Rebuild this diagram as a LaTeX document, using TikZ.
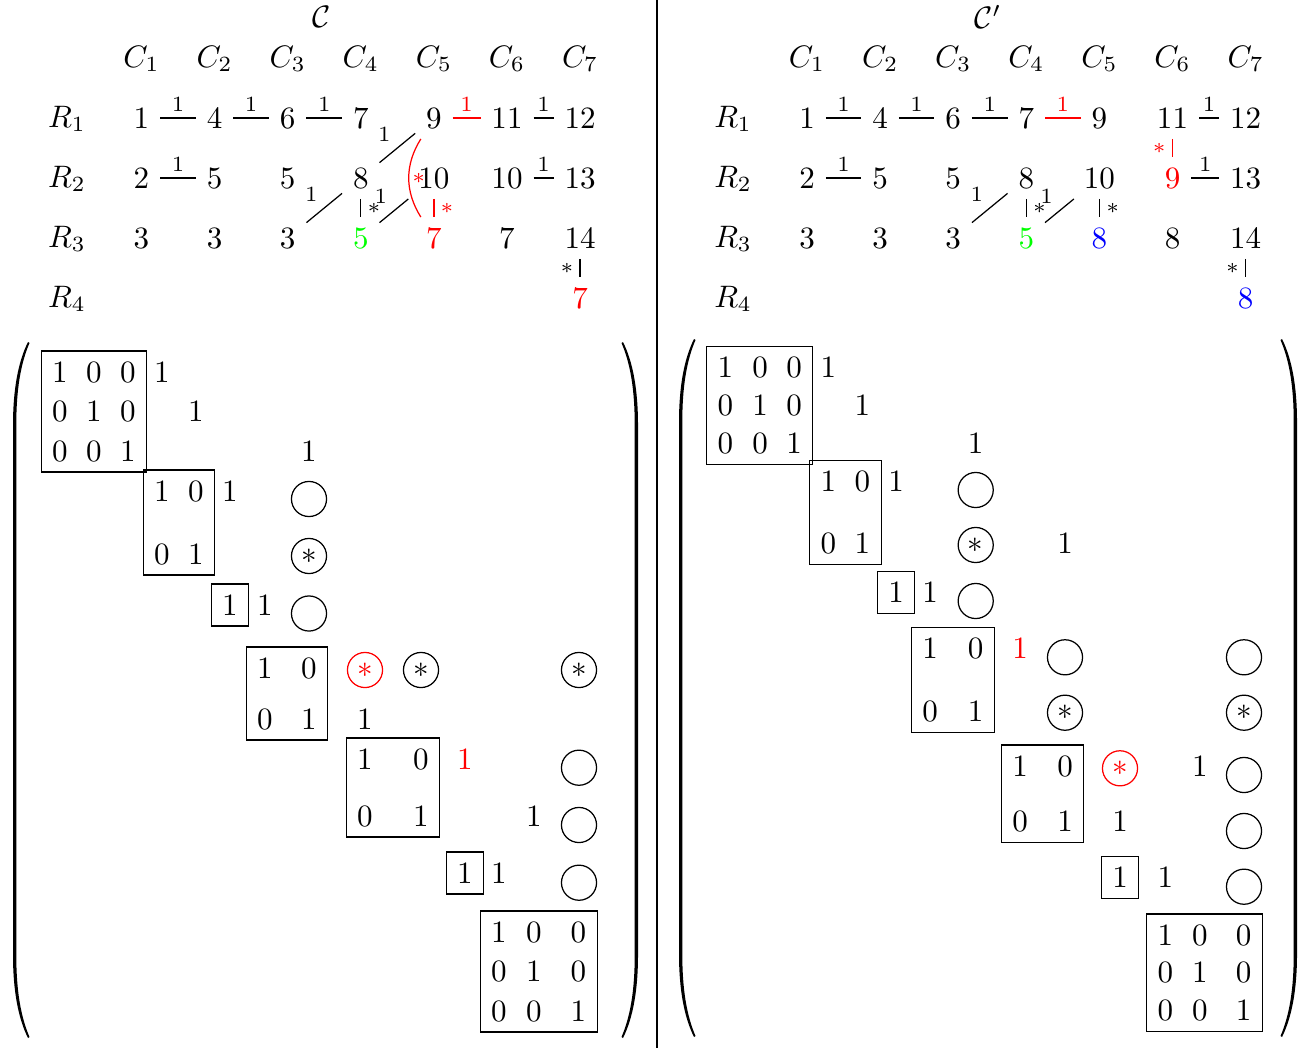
\documentclass[tikz,border=0pt]{standalone}
\usetikzlibrary{fit}
\newcommand\ent[4]{\node (#1) at (#2,#3) {$#4$};}
\newcommand\myLparen[3]{%
 \fill ({#1},{#2}) .. controls ({#1-10},{#2+20}) and ({#1-15},{#2+48}) .. ({#1-15},{#2+83}) -- ({#1-15},{#3-83}) .. controls ({#1-15},{#3-48}) and ({#1-10},{#3-20}) .. ({#1},{#3}) -- ({#1+1.5},{#3-1}) .. controls ({#1-7.5},{#3-22}) and ({#1-11.7},{#3-48}) .. ({#1-11.7},{#3-83}) -- ({#1-11.7},{#2+83}) .. controls ({#1-11.7},{#2+48}) and ({#1-7.5},{#2+22}) .. ({#1+1.5},{#2+1}) -- cycle;}
\newcommand\myRparen[3]{%
 \fill ({#1},{#2}) .. controls ({#1+10},{#2+20}) and ({#1+15},{#2+48}) .. ({#1+15},{#2+83}) -- ({#1+15},{#3-83}) .. controls ({#1+15},{#3-48}) and ({#1+10},{#3-20}) .. ({#1},{#3}) -- ({#1-1.5},{#3-1}) .. controls ({#1+7.5},{#3-22}) and ({#1+11.7},{#3-48}) .. ({#1+11.7},{#3-83}) -- ({#1+11.7},{#2+83}) .. controls ({#1+11.7},{#2+48}) and ({#1+7.5},{#2+22}) .. ({#1-1.5},{#2+1}) -- cycle;}
\begin{document}
\begin{tikzpicture}[x=0.322pt,y=-0.322pt,
  circ/.style={draw,circle,minimum size=11.3pt,inner sep=0pt},
  boxfit/.style={draw,inner sep=0pt},
  lab/.style={font=\scriptsize,inner sep=2pt},
  divider/.style={line width=0.65pt}]
\useasboundingbox (0,0) rectangle (1298,1048);
\draw[divider] (656.7,0) -- (656.7,1048);

% ================= LEFT TOP =================
\node (lT) at (322,17) {$\mathcal{C}$};
\foreach \i/\x in {1/141.5,2/214.6,3/287.7,4/360.8,5/433.9,6/507,7/580.1}
  \node (lC\i) at (\x,59) {$C_{\i}$};
\foreach \i/\y in {1/119,2/179,3/239,4/299}
  \node (lR\i) at (67,\y) {$R_{\i}$};
% row 1
\node (l11) at (141.5,118) {$1$};
\node (l12) at (214.6,118) {$4$};
\node (l13) at (287.7,118) {$6$};
\node (l14) at (360.8,118) {$7$};
\node (l15) at (433.9,118) {$9$};
\node (l16) at (507,118) {$11$};
\node (l17) at (580.1,118) {$12$};
% row 2
\node (l21) at (141.5,178) {$2$};
\node (l22) at (214.6,178) {$5$};
\node (l23) at (287.7,178) {$5$};
\node (l24) at (360.8,178) {$8$};
\node (l25) at (433.9,178) {$10$};
\node (l26) at (507,178) {$10$};
\node (l27) at (580.1,178) {$13$};
% row 3
\node (l31) at (141.5,238) {$3$};
\node (l32) at (214.6,238) {$3$};
\node (l33) at (287.7,238) {$3$};
\node[green] (l34) at (360.8,238) {$5$};
\node[red] (l35) at (433.9,238) {$7$};
\node (l36) at (507,238) {$7$};
\node (l37) at (580.1,238) {$14$};
% row 4
\node[red] (l47) at (580.1,298) {$7$};
% edges
\draw (l11) -- node[lab,above]{$1$} (l12);
\draw (l12) -- node[lab,above]{$1$} (l13);
\draw (l13) -- node[lab,above]{$1$} (l14);
\draw[red] (l15) -- node[lab,above]{$1$} (l16);
\draw (l16) -- node[lab,above]{$1$} (l17);
\draw (l21) -- node[lab,above]{$1$} (l22);
\draw (l26) -- node[lab,above]{$1$} (l27);
\draw (l15) -- node[lab,above left]{$1$} (l24);
\draw (l24) -- node[lab,above left]{$1$} (l33);
\draw (l25) -- node[lab,above left]{$1$} (l34);
\draw (l24) -- node[lab,right]{$*$} (l34);
\draw[red] (l25) -- node[lab,right]{$*$} (l35);
\draw (l37) -- node[lab,left]{$*$} (l47);
\draw[red] (l15) to[bend right=32] node[lab,right,inner sep=1pt]{$*$} (l35);

% ================= RIGHT TOP =================
\node (rT) at (988,17) {$\mathcal{C}'$};
\foreach \i/\x in {1/807,2/880.1,3/953.2,4/1026.3,5/1099.4,6/1172.5,7/1245.6}
  \node (rC\i) at (\x,59) {$C_{\i}$};
\foreach \i/\y in {1/119,2/179,3/239,4/299}
  \node (rR\i) at (733,\y) {$R_{\i}$};
\node (r11) at (807,118) {$1$};
\node (r12) at (880.1,118) {$4$};
\node (r13) at (953.2,118) {$6$};
\node (r14) at (1026.3,118) {$7$};
\node (r15) at (1099.4,118) {$9$};
\node (r16) at (1172.5,118) {$11$};
\node (r17) at (1245.6,118) {$12$};
\node (r21) at (807,178) {$2$};
\node (r22) at (880.1,178) {$5$};
\node (r23) at (953.2,178) {$5$};
\node (r24) at (1026.3,178) {$8$};
\node (r25) at (1099.4,178) {$10$};
\node[red] (r26) at (1172.5,178) {$9$};
\node (r27) at (1245.6,178) {$13$};
\node (r31) at (807,238) {$3$};
\node (r32) at (880.1,238) {$3$};
\node (r33) at (953.2,238) {$3$};
\node[green] (r34) at (1026.3,238) {$5$};
\node[blue] (r35) at (1099.4,238) {$8$};
\node (r36) at (1172.5,238) {$8$};
\node (r37) at (1245.6,238) {$14$};
\node[blue] (r47) at (1245.6,298) {$8$};
\draw (r11) -- node[lab,above]{$1$} (r12);
\draw (r12) -- node[lab,above]{$1$} (r13);
\draw (r13) -- node[lab,above]{$1$} (r14);
\draw[red] (r14) -- node[lab,above]{$1$} (r15);
\draw (r16) -- node[lab,above]{$1$} (r17);
\draw (r21) -- node[lab,above]{$1$} (r22);
\draw (r26) -- node[lab,above]{$1$} (r27);
\draw[red] (r16) -- node[lab,left]{$*$} (r26);
\draw (r24) -- node[lab,above left]{$1$} (r33);
\draw (r25) -- node[lab,above left]{$1$} (r34);
\draw (r24) -- node[lab,right]{$*$} (r34);
\draw (r25) -- node[lab,right]{$*$} (r35);
\draw (r37) -- node[lab,left]{$*$} (r47);

% ================= LEFT MATRIX =================
\myLparen{28}{342}{1038}
\myRparen{623}{342}{1038}
\ent{lm-1-1}{60}{372}{1} \ent{lm-1-2}{94}{372}{0} \ent{lm-1-3}{128}{372}{0} \ent{lm-1-4}{162}{372}{1}
\ent{lm-2-1}{60}{411}{0} \ent{lm-2-2}{94}{411}{1} \ent{lm-2-3}{128}{411}{0} \ent{lm-2-5}{196}{411}{1}
\ent{lm-3-1}{60}{451}{0} \ent{lm-3-2}{94}{451}{0} \ent{lm-3-3}{128}{451}{1} \ent{lm-3-8}{309}{451}{1}
\ent{lm-4-4}{162}{491}{1} \ent{lm-4-5}{196}{491}{0} \ent{lm-4-6}{230}{491}{1}
\node[circ] (lm-4-8) at (309,499) {};
\ent{lm-5-4}{162}{554}{0} \ent{lm-5-5}{196}{554}{1}
\node[circ] (lm-5-8) at (309,556) {$*$};
\ent{lm-6-6}{230}{605}{1} \ent{lm-6-7}{265}{605}{1}
\node[circ] (lm-6-8) at (309,613.5) {};
\ent{lm-7-7}{265}{668}{1} \ent{lm-7-8}{309}{668}{0}
\node[circ,red] (lm-7-9) at (365,670) {$*$};
\node[circ] (lm-7-10) at (421,670) {$*$};
\node[circ] (lm-7-14) at (579,670) {$*$};
\ent{lm-8-7}{265}{719}{0} \ent{lm-8-8}{309}{719}{1} \ent{lm-8-9}{365}{719}{1}
\ent{lm-9-9}{365}{759}{1} \ent{lm-9-10}{421}{759}{0}
\node[red] (lm-9-11) at (465,759) {$1$};
\node[circ] (lm-9-14) at (579,767.7) {};
\ent{lm-10-9}{365}{816}{0} \ent{lm-10-10}{421}{816}{1} \ent{lm-10-13}{534}{816}{1}
\node[circ] (lm-10-14) at (579,825) {};
\ent{lm-11-11}{465}{873}{1} \ent{lm-11-12}{499}{873}{1}
\node[circ] (lm-11-14) at (579,882.7) {};
\ent{lm-12-12}{499}{932}{1} \ent{lm-12-13}{534}{932}{0} \ent{lm-12-14}{578.5}{932}{0}
\ent{lm-13-12}{499}{971}{0} \ent{lm-13-13}{534}{971}{1} \ent{lm-13-14}{578.5}{971}{0}
\ent{lm-14-12}{499}{1011}{0} \ent{lm-14-13}{534}{1011}{0} \ent{lm-14-14}{578.5}{1011}{1}
\node[boxfit,fit=(lm-1-1)(lm-3-3)] (lB1) {};
\node[boxfit,fit=(lm-4-4)(lm-5-5)] (lB2) {};
\node[boxfit,fit=(lm-6-6)] (lB3) {};
\node[boxfit,fit=(lm-7-7)(lm-8-8)] (lB4) {};
\node[boxfit,fit=(lm-9-9)(lm-10-10)] (lB5) {};
\node[boxfit,fit=(lm-11-11)] (lB6) {};
\node[boxfit,fit=(lm-12-12)(lm-14-14)] (lB7) {};

% ================= RIGHT MATRIX =================
\myLparen{694}{339}{1037}
\myRparen{1282}{339}{1037}
\ent{rm-1-1}{725.5}{367.7}{1} \ent{rm-1-2}{760}{367.7}{0} \ent{rm-1-3}{794}{367.7}{0} \ent{rm-1-4}{828.4}{367.7}{1}
\ent{rm-2-1}{725.5}{405.7}{0} \ent{rm-2-2}{760}{405.7}{1} \ent{rm-2-3}{794}{405.7}{0} \ent{rm-2-5}{862.4}{405.7}{1}
\ent{rm-3-1}{725.5}{443.3}{0} \ent{rm-3-2}{760}{443.3}{0} \ent{rm-3-3}{794}{443.3}{1} \ent{rm-3-8}{975.7}{443.3}{1}
\ent{rm-4-4}{828.4}{481.7}{1} \ent{rm-4-5}{862.4}{481.7}{0} \ent{rm-4-6}{896}{481.7}{1}
\node[circ] (rm-4-8) at (975.7,490) {};
\ent{rm-5-4}{828.4}{543.3}{0} \ent{rm-5-5}{862.4}{543.3}{1}
\node[circ] (rm-5-8) at (975.7,545) {$*$};
\ent{rm-5-10}{1065}{543.3}{1}
\ent{rm-6-6}{896}{592.7}{1} \ent{rm-6-7}{930}{592.7}{1}
\node[circ] (rm-6-8) at (975.7,601) {};
\ent{rm-7-7}{930}{648.3}{1} \ent{rm-7-8}{975.7}{648.3}{0}
\node[red] (rm-7-9) at (1020,648.3) {$1$};
\node[circ] (rm-7-10) at (1065,657.3) {};
\node[circ] (rm-7-14) at (1244,657.3) {};
\ent{rm-8-7}{930}{711.7}{0} \ent{rm-8-8}{975.7}{711.7}{1}
\node[circ] (rm-8-10) at (1065,712.7) {$*$};
\node[circ] (rm-8-14) at (1244,712.7) {$*$};
\ent{rm-9-9}{1020}{766}{1} \ent{rm-9-10}{1065}{766}{0}
\node[circ,red] (rm-9-11) at (1120,768.3) {$*$};
\ent{rm-9-13}{1199.8}{766}{1}
\node[circ] (rm-9-14) at (1244,775) {};
\ent{rm-10-9}{1020}{821.7}{0} \ent{rm-10-10}{1065}{821.7}{1} \ent{rm-10-11}{1120}{821.7}{1}
\node[circ] (rm-10-14) at (1244,831) {};
\ent{rm-11-11}{1120}{877.7}{1} \ent{rm-11-12}{1165.4}{877.7}{1}
\node[circ] (rm-11-14) at (1244,886.7) {};
\ent{rm-12-12}{1165.4}{935}{1} \ent{rm-12-13}{1199.8}{935}{0} \ent{rm-12-14}{1243.5}{935}{0}
\ent{rm-13-12}{1165.4}{972.7}{0} \ent{rm-13-13}{1199.8}{972.7}{1} \ent{rm-13-14}{1243.5}{972.7}{0}
\ent{rm-14-12}{1165.4}{1010.7}{0} \ent{rm-14-13}{1199.8}{1010.7}{0} \ent{rm-14-14}{1243.5}{1010.7}{1}
\node[boxfit,fit=(rm-1-1)(rm-3-3)] (rB1) {};
\node[boxfit,fit=(rm-4-4)(rm-5-5)] (rB2) {};
\node[boxfit,fit=(rm-6-6)] (rB3) {};
\node[boxfit,fit=(rm-7-7)(rm-8-8)] (rB4) {};
\node[boxfit,fit=(rm-9-9)(rm-10-10)] (rB5) {};
\node[boxfit,fit=(rm-11-11)] (rB6) {};
\node[boxfit,fit=(rm-12-12)(rm-14-14)] (rB7) {};
\end{tikzpicture}
\end{document}
